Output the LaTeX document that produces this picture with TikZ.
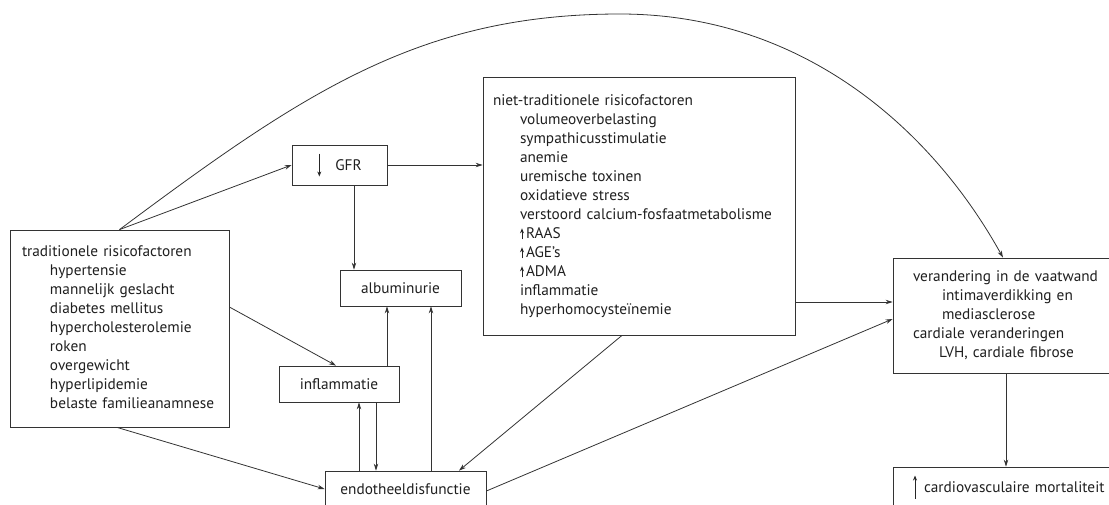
\documentclass[tikz,border=0pt]{standalone}
\usepackage{fontspec}
\setmainfont{PT Sans}
\usetikzlibrary{arrows.meta}
\newcommand\indt[1][27pt]{\hspace*{#1}}
\newcommand\tallarrow[2]{\tikz[baseline=0pt]\draw[line width=0.9pt, draw=black!85, -{Stealth[length=5pt,width=4pt]}] (0pt,#1) -- (0pt,#2);}
\tikzset{
  box/.style={draw=black!80, line width=0.8pt, rectangle, inner sep=0pt,
    font=\fontsize{15.3}{19}\selectfont, text=black!88},
  arr/.style={draw=black!80, line width=0.8pt, -{Stealth[length=7pt,width=4.5pt]}},
}
\begin{document}
\begin{tikzpicture}[x=1pt,y=-1pt]
\useasboundingbox (0,0) rectangle (1109,504);
\clip (0,0) rectangle (1109,504);

\node[box, minimum width=219pt, minimum height=197pt, text width=195pt] (trad) at (119.5,328.5)
{\begin{tabular}{@{}l@{}}
traditionele risicofactoren\\
\indt[28pt]hypertensie\\
\indt[28pt]mannelijk geslacht\\
\indt[28pt]diabetes mellitus\\
\indt[28pt]hypercholesterolemie\\
\indt[28pt]roken\\
\indt[28pt]overgewicht\\
\indt[28pt]hyperlipidemie\\
\indt[28pt]belaste familieanamnese
\end{tabular}};

\node[box, minimum width=95pt, minimum height=40pt] (gfr) at (339.5,165)
{\tallarrow{17pt}{-6pt}\hspace{14pt}GFR};

\node[box, minimum width=121pt, minimum height=36pt] (alb) at (400.5,288) {albuminurie};
\node[box, minimum width=120pt, minimum height=36pt] (infl) at (339,384) {inflammatie};
\node[box, minimum width=161pt, minimum height=36pt] (endo) at (405.5,489) {endotheeldisfunctie};

\node[box, minimum width=312pt, minimum height=258pt, text width=292pt] (niet) at (639,206)
{\begin{tabular}{@{}l@{}}
niet-traditionele risicofactoren\\
\indt volumeoverbelasting\\
\indt sympathicusstimulatie\\
\indt anemie\\
\indt uremische toxinen\\
\indt oxidatieve stress\\
\indt verstoord calcium-fosfaatmetabolisme\\
\indt\tallarrow{-1pt}{10pt}\kern2pt RAAS\\
\indt\tallarrow{-1pt}{10pt}\kern2pt AGE's\\
\indt\tallarrow{-1pt}{10pt}\kern2pt ADMA\\
\indt inflammatie\\
\indt hyperhomocysteïnemie
\end{tabular}};

\node[box, minimum width=222pt, minimum height=115pt, text width=182pt] (vaat) at (1004,315.5)
{\begin{tabular}{@{}l@{}}
verandering in de vaatwand\\
\indt[29pt]intimaverdikking en\\
\indt[29pt]mediasclerose\\
cardiale veranderingen\\
\indt[26pt]LVH, cardiale fibrose
\end{tabular}};

\node[box, minimum width=222pt, minimum height=40pt, text width=182pt] (mort) at (1004,487)
{\begin{tabular}{@{}l@{}}\tallarrow{-6pt}{17pt}\hspace{7pt}cardiovasculaire mortaliteit\end{tabular}};

% connectors
\draw[arr] (trad.north) .. controls (304,92) and (420,14) .. (620,14)
  .. controls (800,14) and (930,126) .. ([xshift=-1pt]vaat.north);
\draw[arr] (trad.north) -- (gfr.west);
\draw[arr] ([yshift=21.5pt]trad.east) -- ([xshift=-3pt]infl.north);
\draw[arr] ([xshift=-2.5pt]trad.south) -- (endo.west);
\draw[arr] (gfr.east) -- (gfr.east -| niet.west);
\draw[arr] ([xshift=14.5pt]gfr.south) -- ([xshift=14.5pt]gfr.south |- alb.north);
\draw[arr] ([xshift=48pt]infl.north) -- ([xshift=48pt]infl.north |- alb.south);
\draw[arr] ([xshift=25.5pt]endo.north) -- ([xshift=25.5pt]endo.north |- alb.south);
\draw[arr] ([xshift=-46.5pt]endo.north) -- ([xshift=-46.5pt]endo.north |- infl.south);
\draw[arr] ([xshift=37pt]infl.south) -- ([xshift=37pt]infl.south |- endo.north);
\draw[arr] ([xshift=-17pt]niet.south) -- ([xshift=53.5pt]endo.north);
\draw[arr] ([yshift=-96pt]niet.east) -- ([yshift=-96pt]niet.east -| vaat.west);
\draw[arr] ([yshift=-2pt]endo.east) -- ([yshift=-3.5pt]vaat.west);
\draw[arr] ([xshift=2pt]vaat.south) -- ([xshift=2pt]vaat.south |- mort.north);
\end{tikzpicture}
\end{document}
